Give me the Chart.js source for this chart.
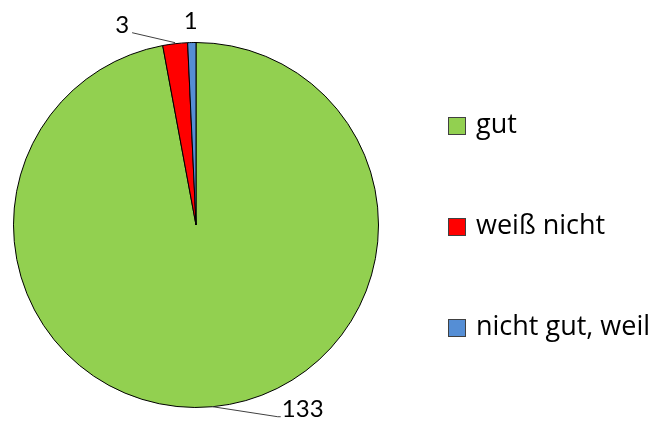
<!DOCTYPE html>
<html>
<head>
<meta charset="utf-8">
<script src="https://cdn.jsdelivr.net/npm/chart.js@4/dist/chart.umd.min.js"></script>
<style>
  html, body { margin: 0; padding: 0; background: #fff; }
  #wrap { width: 663px; height: 421px; position: relative; }
</style>
</head>
<body>
<div id="wrap"><canvas id="pieChart" width="663" height="421"></canvas></div>
<script>
// data
var categories = ['gut', 'weiß nicht', 'nicht gut, weil'];
var counts = [133, 3, 1];
var sliceColors = ['#92D050', '#FF0000', '#558ED5'];

var FONT = '24px Lato, "Open Sans", sans-serif';
var LEGEND_FONT = '27px "Open Sans", Lato, sans-serif';

// value labels with leader lines, placed near each slice
var labelPlugin = {
  id: 'valueLabels',
  afterDatasetsDraw: function(chart) {
    var ctx = chart.ctx;
    var arcs = chart.getDatasetMeta(0).data;
    ctx.save();
    ctx.font = FONT;
    ctx.fillStyle = '#000';
    ctx.textBaseline = 'middle';
    ctx.textAlign = 'center';
    ctx.strokeStyle = '#404040';
    ctx.lineWidth = 1;
    arcs.forEach(function(arc, i) {
      var mid = (arc.startAngle + arc.endAngle) / 2;
      var ex = arc.x + Math.cos(mid) * arc.outerRadius;
      var ey = arc.y + Math.sin(mid) * arc.outerRadius;
      var txt = String(counts[i]);
      if (i === 0) {
        // bottom label, line to the right
        ctx.beginPath();
        ctx.moveTo(ex, ey);
        ctx.lineTo(ex + 65, ey + 10);
        ctx.lineTo(ex + 68, ey + 10);
        ctx.stroke();
        ctx.fillText(txt, ex + 90, ey + 3);
      } else if (i === 1) {
        ctx.beginPath();
        ctx.moveTo(ex, ey - 1);
        ctx.lineTo(ex - 43, ey - 11);
        ctx.stroke();
        ctx.fillText(txt, ex - 53, ey - 18);
      } else {
        ctx.fillText(txt, ex - 1, ey - 21);
      }
    });
    ctx.restore();
  }
};

// legend on the right, widely spaced like the original
var legendPlugin = {
  id: 'sideLegend',
  afterDraw: function(chart) {
    var ctx = chart.ctx;
    ctx.save();
    ctx.font = LEGEND_FONT;
    ctx.textBaseline = 'middle';
    ctx.textAlign = 'left';
    categories.forEach(function(name, i) {
      var y = 126 + i * 101;
      ctx.fillStyle = sliceColors[i];
      ctx.fillRect(448.5, y - 8.5, 17, 17);
      ctx.strokeStyle = '#404040';
      ctx.lineWidth = 1;
      ctx.strokeRect(448.5, y - 8.5, 17, 17);
      ctx.fillStyle = '#000';
      ctx.fillText(name, 476, y - 1);
    });
    ctx.restore();
  }
};

var ctx = document.getElementById('pieChart').getContext('2d');
var chart = new Chart(ctx, {
  type: 'pie',
  data: {
    labels: categories,
    datasets: [{
      data: counts,
      backgroundColor: sliceColors,
      borderColor: '#000',
      borderWidth: 1
    }]
  },
  options: {
    responsive: false,
    animation: false,
    layout: { padding: { left: 13, top: 42, right: 284, bottom: 13 } },
    plugins: {
      legend: { display: false },
      tooltip: { enabled: false }
    }
  },
  plugins: [labelPlugin, legendPlugin]
});
</script>
</body>
</html>
